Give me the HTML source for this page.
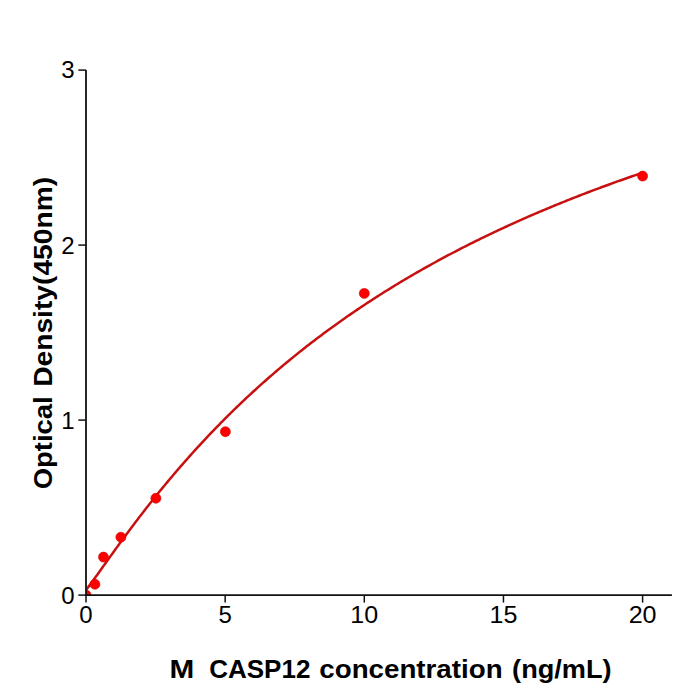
<!DOCTYPE html>
<html><head><meta charset="utf-8"><style>
html,body{margin:0;padding:0;background:#fff;}
svg{display:block;}
text{font-family:"Liberation Sans",sans-serif;fill:#000;}
</style></head><body>
<svg width="700" height="700" viewBox="0 0 700 700">
<rect width="700" height="700" fill="#fff"/>
<defs><clipPath id="ax"><rect x="86" y="0" width="600" height="595.1"/></clipPath></defs>
<g clip-path="url(#ax)">
<polyline points="86.00,589.85 87.39,588.19 88.79,586.38 90.18,584.52 91.58,582.63 92.97,580.71 94.37,578.79 95.76,576.85 97.16,574.90 98.55,572.95 99.95,570.99 101.34,569.04 102.74,567.08 104.13,565.12 105.53,563.17 106.92,561.21 108.32,559.26 109.71,557.31 111.11,555.37 112.50,553.43 113.90,551.49 115.29,549.56 116.69,547.63 118.08,545.71 119.48,543.79 120.87,541.88 122.27,539.97 123.66,538.08 125.06,536.18 126.45,534.30 127.85,532.41 129.24,530.54 130.64,528.67 132.03,526.81 133.43,524.96 134.82,523.11 136.22,521.27 137.61,519.44 139.01,517.61 140.40,515.79 141.80,513.98 143.19,512.17 144.59,510.38 145.98,508.59 147.38,506.80 148.77,505.03 150.17,503.26 151.56,501.49 152.96,499.74 154.35,497.99 155.75,496.25 157.14,494.52 158.54,492.80 159.93,491.08 161.33,489.37 162.72,487.66 164.12,485.97 165.51,484.28 166.91,482.60 168.30,480.92 169.70,479.25 171.09,477.59 172.49,475.94 173.88,474.30 175.28,472.66 176.67,471.03 178.07,469.40 179.46,467.78 180.86,466.17 182.25,464.57 183.65,462.97 185.04,461.39 186.44,459.80 187.83,458.23 189.23,456.66 190.62,455.10 192.02,453.54 193.41,452.00 194.81,450.46 196.20,448.92 197.60,447.39 198.99,445.87 200.39,444.36 201.78,442.85 203.18,441.35 204.57,439.86 205.97,438.37 207.36,436.89 208.76,435.41 210.15,433.95 211.55,432.49 212.94,431.03 214.34,429.58 215.73,428.14 217.13,426.70 218.52,425.27 219.92,423.85 221.31,422.43 222.71,421.02 224.10,419.62 225.50,418.22 226.89,416.83 228.29,415.44 229.68,414.06 231.08,412.69 232.47,411.32 233.87,409.96 235.26,408.60 236.66,407.25 238.05,405.91 239.45,404.57 240.84,403.24 242.24,401.91 243.63,400.59 245.03,399.27 246.42,397.96 247.82,396.66 249.21,395.36 250.61,394.07 252.00,392.78 253.40,391.50 254.79,390.22 256.19,388.95 257.58,387.68 258.98,386.42 260.37,385.17 261.77,383.92 263.16,382.68 264.56,381.44 265.95,380.21 267.35,378.98 268.74,377.75 270.14,376.54 271.53,375.32 272.93,374.12 274.32,372.91 275.72,371.72 277.11,370.53 278.51,369.34 279.90,368.16 281.30,366.98 282.69,365.81 284.09,364.64 285.48,363.48 286.88,362.32 288.27,361.17 289.67,360.02 291.06,358.88 292.46,357.74 293.85,356.61 295.25,355.48 296.64,354.35 298.04,353.23 299.43,352.12 300.83,351.01 302.22,349.90 303.62,348.80 305.01,347.70 306.41,346.61 307.80,345.52 309.20,344.44 310.59,343.36 311.99,342.29 313.38,341.22 314.78,340.15 316.17,339.09 317.57,338.03 318.96,336.98 320.36,335.93 321.75,334.89 323.15,333.85 324.54,332.81 325.94,331.78 327.33,330.75 328.73,329.73 330.12,328.71 331.52,327.70 332.91,326.69 334.31,325.68 335.70,324.68 337.10,323.68 338.49,322.68 339.89,321.69 341.28,320.70 342.68,319.72 344.07,318.74 345.47,317.76 346.86,316.79 348.26,315.82 349.65,314.86 351.05,313.90 352.44,312.94 353.84,311.99 355.23,311.04 356.63,310.10 358.02,309.15 359.42,308.22 360.81,307.28 362.21,306.35 363.60,305.42 365.00,304.50 366.39,303.58 367.79,302.66 369.18,301.75 370.58,300.84 371.97,299.93 373.37,299.03 374.76,298.13 376.16,297.24 377.55,296.34 378.95,295.46 380.34,294.57 381.74,293.69 383.13,292.81 384.53,291.93 385.92,291.06 387.32,290.19 388.71,289.33 390.11,288.46 391.50,287.61 392.90,286.75 394.29,285.90 395.69,285.05 397.08,284.20 398.48,283.36 399.87,282.52 401.27,281.68 402.66,280.85 404.06,280.02 405.45,279.19 406.85,278.36 408.24,277.54 409.64,276.72 411.03,275.91 412.43,275.10 413.82,274.29 415.22,273.48 416.61,272.68 418.01,271.87 419.40,271.08 420.80,270.28 422.19,269.49 423.59,268.70 424.98,267.91 426.38,267.13 427.77,266.35 429.17,265.57 430.56,264.80 431.96,264.02 433.35,263.25 434.75,262.49 436.14,261.72 437.54,260.96 438.93,260.20 440.33,259.45 441.72,258.70 443.12,257.94 444.51,257.20 445.91,256.45 447.30,255.71 448.70,254.97 450.09,254.23 451.49,253.50 452.88,252.76 454.28,252.04 455.67,251.31 457.07,250.58 458.46,249.86 459.86,249.14 461.25,248.43 462.65,247.71 464.04,247.00 465.44,246.29 466.83,245.58 468.23,244.88 469.62,244.18 471.02,243.48 472.41,242.78 473.81,242.08 475.20,241.39 476.60,240.70 477.99,240.01 479.39,239.33 480.78,238.64 482.18,237.96 483.57,237.29 484.97,236.61 486.36,235.94 487.76,235.26 489.15,234.59 490.55,233.93 491.94,233.26 493.34,232.60 494.73,231.94 496.13,231.28 497.52,230.63 498.92,229.97 500.31,229.32 501.71,228.67 503.10,228.02 504.50,227.38 505.89,226.74 507.29,226.09 508.68,225.46 510.08,224.82 511.47,224.19 512.87,223.55 514.26,222.92 515.66,222.29 517.05,221.67 518.45,221.04 519.84,220.42 521.24,219.80 522.63,219.18 524.03,218.57 525.42,217.95 526.82,217.34 528.21,216.73 529.61,216.12 531.00,215.52 532.40,214.91 533.79,214.31 535.19,213.71 536.58,213.11 537.98,212.52 539.37,211.92 540.77,211.33 542.16,210.74 543.56,210.15 544.95,209.56 546.35,208.98 547.74,208.40 549.14,207.82 550.53,207.24 551.93,206.66 553.32,206.08 554.72,205.51 556.11,204.94 557.51,204.37 558.90,203.80 560.30,203.23 561.69,202.67 563.09,202.10 564.48,201.54 565.88,200.98 567.27,200.42 568.67,199.87 570.06,199.31 571.46,198.76 572.85,198.21 574.25,197.66 575.64,197.11 577.04,196.57 578.43,196.02 579.83,195.48 581.22,194.94 582.62,194.40 584.01,193.86 585.41,193.33 586.80,192.79 588.20,192.26 589.59,191.73 590.99,191.20 592.38,190.67 593.78,190.15 595.17,189.62 596.57,189.10 597.96,188.58 599.36,188.06 600.75,187.54 602.15,187.02 603.54,186.51 604.94,186.00 606.33,185.48 607.73,184.97 609.12,184.46 610.52,183.96 611.91,183.45 613.31,182.95 614.70,182.44 616.10,181.94 617.49,181.44 618.89,180.94 620.28,180.45 621.68,179.95 623.07,179.46 624.47,178.97 625.86,178.47 627.26,177.99 628.65,177.50 630.05,177.01 631.44,176.53 632.84,176.04 634.23,175.56 635.63,175.08 637.02,174.60 638.42,174.12 639.81,173.64 641.21,173.17 642.60,172.69" fill="none" stroke="#c81010" stroke-width="2.5"/>
<g fill="#ff0000" stroke="#d00000" stroke-width="0.6">
<circle cx="86" cy="595.1" r="5.0"/>
<circle cx="94.9" cy="584.3" r="5.0"/>
<circle cx="103.5" cy="557.1" r="5.0"/>
<circle cx="120.9" cy="537.2" r="5.0"/>
<circle cx="155.9" cy="498.3" r="5.0"/>
<circle cx="225.4" cy="431.7" r="5.0"/>
<circle cx="364.3" cy="293.4" r="5.0"/>
<circle cx="642.6" cy="176.1" r="5.0"/>
</g>
</g>
<g stroke="#111" stroke-width="1.8" fill="none">
<line x1="86" y1="70.1" x2="86" y2="596.1"/>
<line x1="85" y1="595.1" x2="671.9" y2="595.1"/>
</g>
<g stroke="#111" stroke-width="1.5" fill="none">
<line x1="78.3" y1="70.1" x2="86" y2="70.1"/>
<line x1="78.3" y1="245.1" x2="86" y2="245.1"/>
<line x1="78.3" y1="420.1" x2="86" y2="420.1"/>
<line x1="78.3" y1="595.1" x2="86" y2="595.1"/>
<line x1="86" y1="595.1" x2="86" y2="602.6"/>
<line x1="225.15" y1="595.1" x2="225.15" y2="602.6"/>
<line x1="364.3" y1="595.1" x2="364.3" y2="602.6"/>
<line x1="503.45" y1="595.1" x2="503.45" y2="602.6"/>
<line x1="642.6" y1="595.1" x2="642.6" y2="602.6"/>
</g>
<g font-size="24" text-anchor="end">
<text x="74.5" y="78.4">3</text>
<text x="74.5" y="253.7">2</text>
<text x="74.5" y="428.5">1</text>
<text x="74.5" y="603.6">0</text>
</g>
<g font-size="24" text-anchor="middle">
<text x="86" y="623.3">0</text>
<text x="225.15" y="623.3">5</text>
<text x="350.35" y="623.3" text-anchor="start" textLength="27.9" lengthAdjust="spacingAndGlyphs">10</text>
<text x="489.5" y="623.3" text-anchor="start" textLength="27.9" lengthAdjust="spacingAndGlyphs">15</text>
<text x="628.65" y="623.3" text-anchor="start" textLength="27.9" lengthAdjust="spacingAndGlyphs">20</text>
</g>
<text x="169.6" y="678" font-size="25" font-weight="bold" textLength="24.75" lengthAdjust="spacingAndGlyphs">M</text>
<text x="209.2" y="678" font-size="25" font-weight="bold" textLength="101.2" lengthAdjust="spacingAndGlyphs">CASP12</text>
<text x="319.3" y="678" font-size="25" font-weight="bold" textLength="183.3" lengthAdjust="spacingAndGlyphs">concentration</text>
<text x="512.1" y="678" font-size="25" font-weight="bold" textLength="99.5" lengthAdjust="spacingAndGlyphs">(ng/mL)</text>
<text transform="translate(52.1,489.2) rotate(-90)" font-size="25" font-weight="bold" textLength="92.8" lengthAdjust="spacingAndGlyphs">Optical</text>
<text transform="translate(52.1,386.8) rotate(-90)" font-size="25" font-weight="bold" textLength="209.9" lengthAdjust="spacingAndGlyphs">Density(450nm)</text>
</svg>
</body></html>
